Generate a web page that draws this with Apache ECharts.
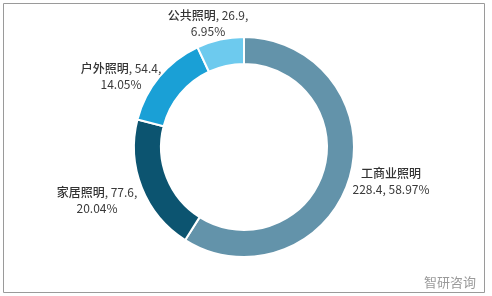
<!DOCTYPE html>
<html>
<head>
<meta charset="utf-8">
<script src="https://cdn.jsdelivr.net/npm/echarts@6/dist/echarts.min.js"></script>
<style>
  html, body { margin: 0; padding: 0; background: #fff; }
  #main { width: 492px; height: 296px; }
</style>
</head>
<body>
<div id="main"></div>
<script>
// 数据
var names = ['工商业照明', '家居照明', '户外照明', '公共照明'];
var values = [228.4, 77.6, 54.4, 26.9];
var percents = ['58.97%', '20.04%', '14.05%', '6.95%'];
var colors = ['#6393aa', '#0c5470', '#1aa0d6', '#6dcaee'];

// 标签文字(工商业换行位置不同)
var labelTexts = [
    '{n|' + names[0] + '}\n' + values[0] + ', ' + percents[0],
    '{n|' + names[1] + '}, ' + values[1] + ',\n' + percents[1],
    '{n|' + names[2] + '}, ' + values[2] + ',\n' + percents[2],
    '{n|' + names[3] + '}, ' + values[3] + ',\n' + percents[3]
];
// 标签位置(中心点)
var labelPos = [[391, 181], [97, 200], [121, 76], [208, 23]];

var data = names.map(function (n, i) {
    return { name: n, value: values[i], itemStyle: { color: colors[i] } };
});

var chart = echarts.init(document.getElementById('main'));
var option = {
    backgroundColor: '#fff',
    animation: false,
    graphic: [
        {
            type: 'rect',
            shape: { x: 3.5, y: 3.5, width: 481, height: 289 },
            style: { fill: 'none', stroke: '#9a9a9a', lineWidth: 1 }
        },
        {
            type: 'text',
            left: 424, top: 276,
            style: { text: '智研咨询', fill: '#9a9a9a', font: '13px "Noto Sans CJK SC"' }
        }
    ],
    series: [{
        type: 'pie',
        center: [244, 147],
        radius: [83, 110],
        startAngle: 90,
        clockwise: true,
        itemStyle: { borderColor: '#fff', borderWidth: 2 },
        label: {
            show: true,
            position: 'outside',
            color: '#3a3a3a',
            fontSize: 12,
            lineHeight: 16,
            fontFamily: '"Noto Sans CJK SC", sans-serif',
            align: 'center',
            rich: {
                n: {
                    color: '#333',
                    fontSize: 12,
                    fontWeight: 500,
                    fontFamily: '"Noto Sans CJK SC", sans-serif'
                }
            },
            formatter: function (p) { return labelTexts[p.dataIndex]; }
        },
        labelLine: { show: false },
        labelLayout: function (p) {
            return {
                x: labelPos[p.dataIndex][0],
                y: labelPos[p.dataIndex][1],
                align: 'center',
                verticalAlign: 'middle'
            };
        },
        data: data
    }]
};
chart.setOption(option);
</script>
</body>
</html>
